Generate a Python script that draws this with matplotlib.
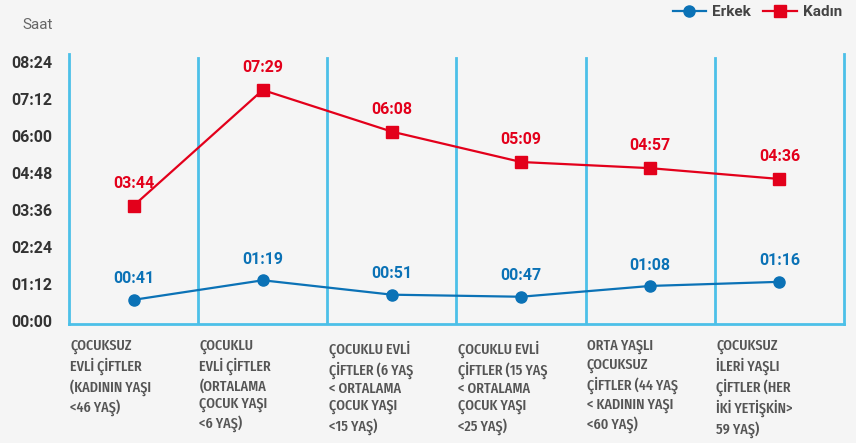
import matplotlib.pyplot as plt

plt.rcParams['font.family'] = ['Roboto', 'DejaVu Sans']

categories = [
    "ÇOCUKSUZ\nEVLİ ÇİFTLER\n(KADININ YAŞI\n<46 YAŞ)",
    "ÇOCUKLU\nEVLİ ÇİFTLER\n(ORTALAMA\nÇOCUK YAŞI\n<6 YAŞ)",
    "ÇOCUKLU EVLİ\nÇİFTLER (6 YAŞ\n< ORTALAMA\nÇOCUK YAŞI\n<15 YAŞ)",
    "ÇOCUKLU EVLİ\nÇİFTLER (15 YAŞ\n< ORTALAMA\nÇOCUK YAŞI\n<25 YAŞ)",
    "ORTA YAŞLI\nÇOCUKSUZ\nÇİFTLER (44 YAŞ\n< KADININ YAŞI\n<60 YAŞ)",
    "ÇOCUKSUZ\nİLERİ YAŞLI\nÇİFTLER (HER\nİKİ YETİŞKİN>\n59 YAŞ)",
]
# minutes
erkek = [41, 79, 51, 47, 68, 76]
kadin = [224, 449, 368, 309, 297, 276]
tick_labels = ["00:00", "01:12", "02:24", "03:36", "04:48", "06:00", "07:12", "08:24"]

bg = "#f5f5f5"
grid_c = "#4cc0e8"
blue = "#0b72b6"
red = "#e3001b"

fig = plt.figure(figsize=(8.56, 4.43), dpi=100, facecolor=bg)
ax = fig.add_axes([69/856, 1-324/443, (844-69)/856, (324-54)/443], facecolor=bg)

x = list(range(len(categories)))

def fmt(m):
    return "%02d:%02d" % (m // 60, m % 60)

ax.plot(x, erkek, color=blue, lw=1.6, marker="o", ms=8, label="Erkek", zorder=3)
ax.plot(x, kadin, color=red, lw=1.6, marker="s", ms=8.5, label="Kadın", zorder=3)

for xi, v in zip(x, erkek):
    ax.annotate(fmt(v), (xi, v), xytext=(0, 15), textcoords="offset points",
                ha="center", va="center", color=blue, fontsize=11.5, fontweight="bold")
for xi, v in zip(x, kadin):
    ax.annotate(fmt(v), (xi, v), xytext=(0, 16), textcoords="offset points",
                ha="center", va="center", color=red, fontsize=11.5, fontweight="bold")

ax.set_xlim(-0.5, len(categories) - 0.5)
ax.set_ylim(-6, 519)
ax.set_yticks([i * 72 for i in range(len(tick_labels))])
ax.set_yticklabels(tick_labels, fontsize=11.5, fontweight="bold", color="#333333")
ax.tick_params(axis="y", length=0, pad=12)
ax.set_xticks([])

ax.spines["top"].set_visible(False)
for s in ["left", "right", "bottom"]:
    ax.spines[s].set_color(grid_c)
    ax.spines[s].set_linewidth(2)

for b in range(1, len(categories)):
    ax.axvline(b - 0.5, ymax=0.985, color=grid_c, lw=2, zorder=1)

for xi, c in zip(x, categories):
    ax.text(xi - 0.49, -0.06, c, transform=ax.get_xaxis_transform(), ha="left", va="top",
            fontsize=11, fontweight=500, color="#555555", linespacing=1.27,
            family=["Fira Sans Extra Condensed", "Roboto"])

fig.text(53/856, 1-25/443, "Saat", ha="right", va="center", fontsize=11, color="#666666")

leg = fig.legend(loc="center right", bbox_to_anchor=(1.0, 1-12/443), ncol=2, frameon=False,
                 fontsize=11, handlelength=2.2, columnspacing=0.8, handletextpad=0.4)
for t in leg.get_texts():
    t.set_color("#444444")
    t.set_fontweight("bold")

fig.savefig("out.png", dpi=100, facecolor=bg)
